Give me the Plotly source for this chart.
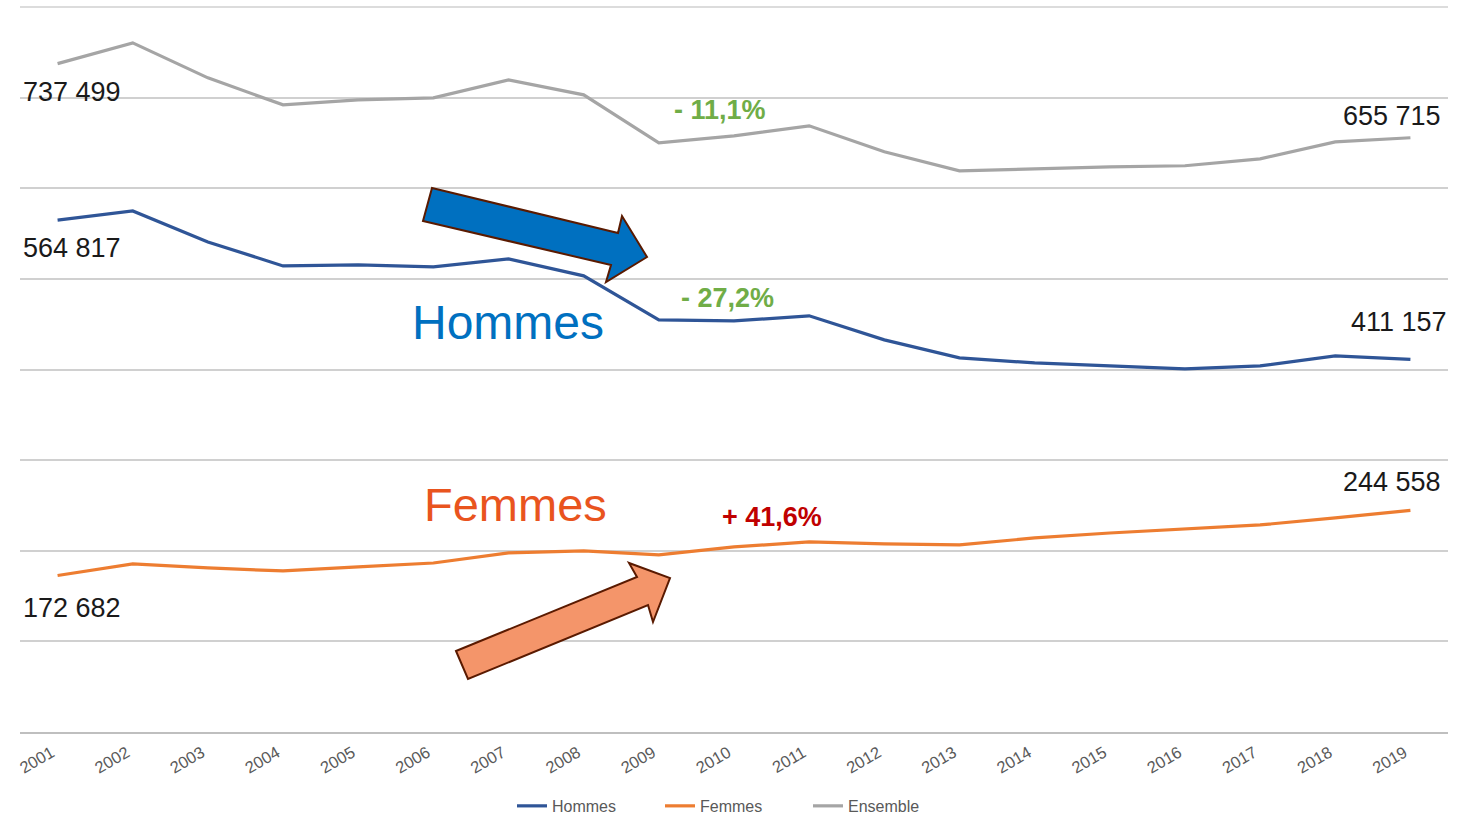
import plotly.graph_objects as go

years = [str(y) for y in range(2001, 2020)]
hommes = [564817, 575000, 540800, 514300, 515500, 513200, 522000, 503300, 454700, 453600,
          459200, 432700, 412800, 407300, 404000, 400700, 404000, 415000, 411157]
femmes = [172682, 185400, 181000, 177700, 182100, 186500, 197600, 199800, 195400, 204200,
          209700, 207500, 206400, 214100, 219600, 224100, 228500, 236200, 244558]
ensemble = [737499, 760400, 721800, 692000, 697600, 699700, 719600, 703100, 650100, 657800,
            668900, 640200, 619200, 621400, 623600, 624800, 632500, 651200, 655715]

FONT = "Liberation Sans, Arial, Helvetica, sans-serif"

# plot area in pixels
X0, X1, Y0, Y1 = 20, 1448, 7, 732
def px(x, y):
    return (x - X0) / (X1 - X0), (Y1 - y) / (Y1 - Y0)

fig = go.Figure()
fig.add_trace(go.Scatter(x=years, y=hommes, name="Hommes", mode="lines",
                         line=dict(color="#2F5597", width=3.2)))
fig.add_trace(go.Scatter(x=years, y=femmes, name="Femmes", mode="lines",
                         line=dict(color="#ED7D31", width=3.2)))
fig.add_trace(go.Scatter(x=years, y=ensemble, name="Ensemble", mode="lines",
                         line=dict(color="#A5A5A5", width=3.2)))

# top gridline (at the edge of the range)
fig.add_shape(type="line", xref="paper", yref="paper", x0=0, x1=1, y0=1, y1=1,
              line=dict(color="#D0D0D0", width=1.5), layer="below")

def poly(points, fill, line):
    pts = [px(x, y) for x, y in points]
    path = "M " + " L ".join(f"{a:.5f},{b:.5f}" for a, b in pts) + " Z"
    fig.add_shape(type="path", path=path, xref="paper", yref="paper",
                  fillcolor=fill, line=dict(color=line, width=2), layer="above")

poly([(432, 188), (618, 233), (622, 216), (647, 257), (606, 282), (611, 265), (423, 221)],
     "#0070C0", "#5A1A00")
poly([(456, 651), (637, 577), (629, 563), (670, 578), (653, 622), (648, 605), (468, 679)],
     "#F4956A", "#5A1A00")

def text(x, y, s, size, color, anchor="left", bold=False):
    a, b = px(x, y)
    fig.add_annotation(x=a, y=b, xref="paper", yref="paper", text=f"<b>{s}</b>" if bold else s,
                       showarrow=False, xanchor=anchor, yanchor="middle",
                       font=dict(family=FONT, size=size, color=color))

text(21, 92, "737 499", 27, "#1a1a1a")
text(21, 248, "564 817", 27, "#1a1a1a")
text(21, 608, "172 682", 27, "#1a1a1a")
text(1443, 116, "655 715", 27, "#1a1a1a", "right")
text(1449, 322, "411 157", 27, "#1a1a1a", "right")
text(1443, 482, "244 558", 27, "#1a1a1a", "right")
text(508, 322, "Hommes", 48, "#0070C0", "center")
text(515, 505, "Femmes", 47, "#E9541E", "center")
text(720, 110, "- 11,1%", 27, "#70AD47", "center", True)
text(727, 298, "- 27,2%", 27, "#70AD47", "center", True)
text(772, 517, "+ 41,6%", 27, "#C00000", "center", True)

fig.update_layout(
    width=1465, height=815,
    margin=dict(l=X0, r=1465 - X1, t=Y0, b=815 - Y1, autoexpand=False),
    plot_bgcolor="white", paper_bgcolor="white",
    font=dict(family=FONT, color="#595959"),
    showlegend=True,
    legend=dict(orientation="h", x=0.5, xanchor="center", y=-0.102, yanchor="middle",
                font=dict(size=16, color="#595959"), entrywidth=103, entrywidthmode="pixels",
                tracegroupgap=0),
    xaxis=dict(type="category", range=[-0.5, 18.5], tickangle=-30, automargin=False,
               tickfont=dict(size=16.5, color="#595959"), showgrid=False,
               ticklabelshift=-6, ticklabelstandoff=3,
               showline=True, linecolor="#BFBFBF", linewidth=2, ticks="", zeroline=False),
    yaxis=dict(range=[0, 800000], dtick=100000, showticklabels=False, automargin=False,
               showgrid=True, gridcolor="#D0D0D0", gridwidth=1.5, zeroline=False,
               showline=False),
)

fig.write_html("out.html", config={"displayModeBar": False},
               post_script="document.body.style.margin='0px';document.body.style.overflow='hidden';")
